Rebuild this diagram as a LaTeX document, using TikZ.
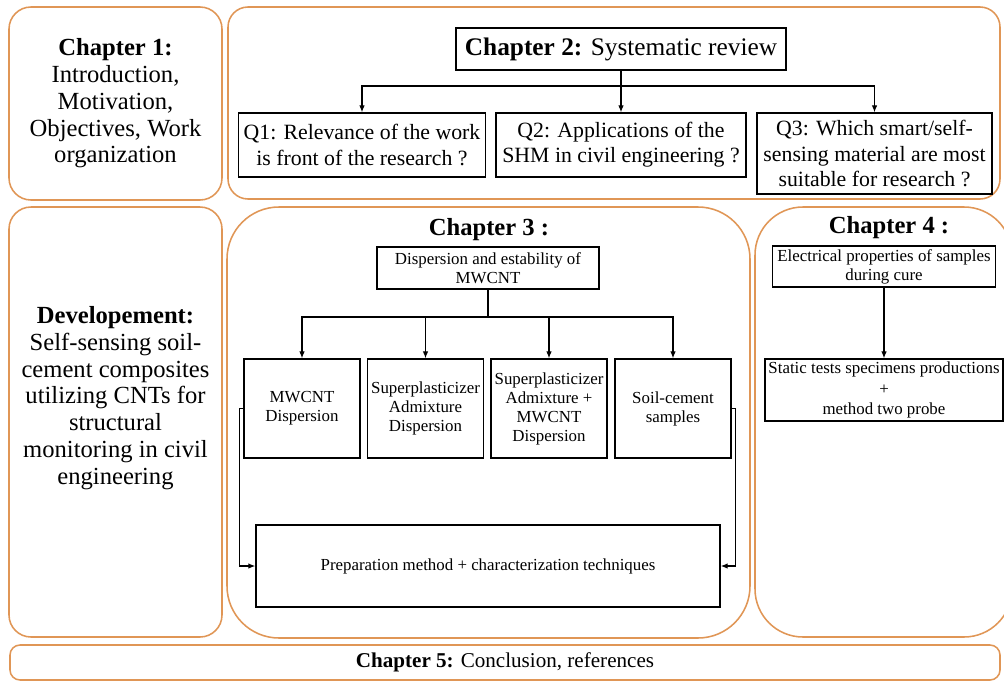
\documentclass[tikz,border=0pt]{standalone}
\usepackage{fontspec}
\setmainfont{Liberation Serif}
\usetikzlibrary{arrows.meta}
\definecolor{panelorange}{RGB}{224,150,86}

\begin{document}
\begin{tikzpicture}[x=0.025cm, y=-0.025cm, >={Latex[length=5pt,width=4pt]},
    panel/.style={draw=panelorange, line width=1.1pt},
    box/.style={draw, line width=0.9pt, align=center, inner sep=1pt},
    big/.style={font=\fontsize{17.5}{19}\selectfont, align=center},
    qtext/.style={font=\fontsize{15.5}{18}\selectfont},
    small/.style={font=\fontsize{12}{13.5}\selectfont}]
    \useasboundingbox (0,0) rectangle (1004,684);
    % Chapter 1
    \draw[panel, rounded corners=0.55cm] (9,7) rectangle (222,200) node[midway, big] (ch1) {\textbf{Chapter 1:}\\Introduction,\\Motivation,\\Objectives, Work\\organization};
    % Chapter 2
    \draw[panel, rounded corners=0.5cm] (228,7) rectangle (1000,199);
    \node[box, font=\fontsize{18}{20}\selectfont, minimum width=8.25cm, minimum height=1.05cm] (ch2) at (621,49) {\textbf{Chapter 2:} Systematic review};
    \node[box, qtext, minimum width=6.175cm, minimum height=1.6cm] (q1) at (362,145) {Q1: Relevance of the work\\is front of the research ?};
    \node[box, qtext, minimum width=6.25cm, minimum height=1.6cm] (q2) at (621,145) {Q2: Applications of the\\SHM in civil engineering ?};
    \node[box, qtext, minimum width=5.875cm, minimum height=2.025cm] (q3) at (874.5,153.5) {Q3: Which smart/self-\\sensing material are most\\suitable for research ?};
    \coordinate (ch2split) at (621,86);
    \draw[line width=0.9pt] (ch2.south) -- (ch2split);
    \draw[->, line width=0.9pt] (ch2split) -| (q1.north);
    \draw[->, line width=0.9pt] (ch2split) -- (q2.north);
    \draw[->, line width=0.9pt] (ch2split) -| (q3.north);
    % Developement
    \draw[panel, rounded corners=0.55cm] (9,207) rectangle (222,637);
    \node[big] (dev) at (115.5,398) {\textbf{Developement:}\\Self-sensing soil-\\cement composites\\utilizing CNTs for\\structural\\monitoring in civil\\engineering};
    % Chapter 3
    \draw[panel, rounded corners=1.3cm] (227,207) rectangle (750,638);
    \node[big] (ch3) at (489,230) {\textbf{Chapter 3 :}};
    \node[box, small, minimum width=5.55cm, minimum height=1.05cm] (disp) at (488,268) {Dispersion and estability of\\MWCNT};
    \node[box, small, minimum width=2.9cm, minimum height=2.475cm] (d1) at (302,408.5) {MWCNT\\Dispersion};
    \node[box, small, minimum width=2.9cm, minimum height=2.475cm] (d2) at (425.5,408.5) {Superplasticizer\\Admixture\\Dispersion};
    \node[box, small, minimum width=2.9cm, minimum height=2.475cm] (d3) at (549,408.5) {Superplasticizer\\Admixture +\\MWCNT\\Dispersion};
    \node[box, small, minimum width=2.9cm, minimum height=2.475cm] (d4) at (673,408.5) {Soil-cement\\samples};
    \node[box, small, minimum width=11.6cm, minimum height=2.05cm] (prep) at (488,566) {Preparation method + characterization techniques};
    \coordinate (ch3split) at (488,317);
    \draw[line width=0.9pt] (disp.south) -- (ch3split);
    \draw[->, line width=0.9pt] (ch3split) -| (d1.north);
    \draw[->, line width=0.9pt] (ch3split) -| (d2.north);
    \draw[->, line width=0.9pt] (ch3split) -| (d3.north);
    \draw[->, line width=0.9pt] (ch3split) -| (d4.north);
    \draw[->, line width=0.9pt] (d1.west) -- ++(-4,0) |- (prep.west);
    \draw[->, line width=0.9pt] (d4.east) -- ++(4,0) |- (prep.east);
    % Chapter 4
    \draw[panel, rounded corners=1.2cm] (755,207) rectangle (1012,637);
    \node[big] (ch4) at (889,228) {\textbf{Chapter 4 :}};
    \node[box, small, minimum width=5.575cm, minimum height=1.025cm] (elec) at (884,266.5) {Electrical properties of samples\\during cure};
    \node[box, small, font=\fontsize{12}{14.5}\selectfont, minimum width=5.95cm, minimum height=1.55cm] (stat) at (884,390) {Static tests specimens productions\\+\\method two probe};
    \draw[->, line width=0.9pt] (elec) -- (stat);
    % Chapter 5
    \draw[panel, rounded corners=0.25cm] (10,645) rectangle (1000,680) node[midway, font=\fontsize{15}{17}\selectfont] (ch5) {\textbf{Chapter 5:} Conclusion, references};
\end{tikzpicture}
\end{document}
